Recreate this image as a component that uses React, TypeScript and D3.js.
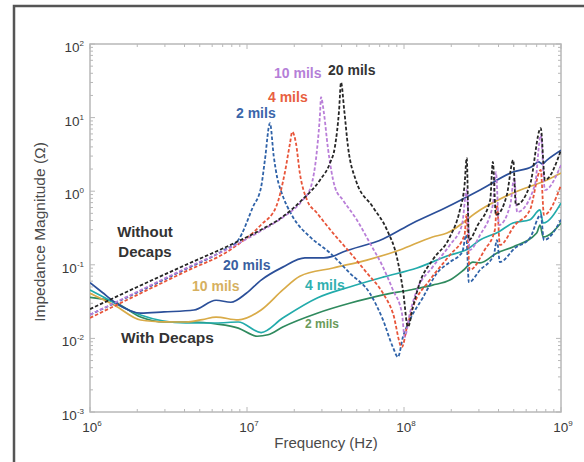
import React from 'react';
import * as d3 from 'd3';

// frequency in MHz, impedance in ohms
const withDecaps20: [number, number][] = [
  [1, 0.057], [1.2, 0.042], [1.44, 0.031], [2.1, 0.022], [2.96, 0.0229], [4.6, 0.0243],
  [6.35, 0.033], [7.9, 0.031], [9.9, 0.041], [12.3, 0.062], [16.9, 0.093], [23.4, 0.124],
  [30.9, 0.124], [35, 0.13], [40.8, 0.149], [73.5, 0.224], [114, 0.37], [188, 0.61],
  [305, 1.04], [494, 1.82], [650, 2.15], [720, 2.5], [760, 2.35], [814, 2.65], [1000, 3.6]
];
const withDecaps10: [number, number][] = [
  [1, 0.041], [1.2, 0.034], [1.44, 0.028], [2.1, 0.0178], [3, 0.0168], [4.08, 0.0167],
  [5.2, 0.018], [6.35, 0.0195], [8.8, 0.0178], [12.3, 0.0243], [16.9, 0.0455], [21.7, 0.07],
  [35.3, 0.0906], [58, 0.116], [94, 0.159], [152, 0.239], [188, 0.27], [305, 0.556],
  [494, 0.946], [814, 1.42], [1000, 1.77]
];
const withDecaps4: [number, number][] = [
  [1, 0.0455], [1.2, 0.037], [1.44, 0.03], [2.1, 0.0208], [4.08, 0.0162], [6.35, 0.0162],
  [8.8, 0.0167], [12.3, 0.012], [16.9, 0.0189], [28, 0.0354], [45, 0.05], [73.5, 0.068],
  [121, 0.0906], [196, 0.136], [250, 0.16], [305, 0.217], [400, 0.28], [494, 0.37],
  [634, 0.41], [735, 0.556], [770, 0.37], [1000, 0.69]
];
const withDecaps2: [number, number][] = [
  [1, 0.036], [1.44, 0.031], [2.1, 0.0195], [2.96, 0.0167], [4.6, 0.0167], [6.35, 0.0157],
  [8.8, 0.0138], [11.6, 0.0107], [13.6, 0.0112], [16.9, 0.0143], [28, 0.022], [45, 0.03],
  [73.5, 0.039], [109, 0.0455], [152, 0.053], [196, 0.062], [240, 0.085], [275, 0.109],
  [305, 0.106], [391, 0.145], [494, 0.175], [700, 0.27], [735, 0.347], [770, 0.239], [1000, 0.37]
];

const noDecaps2: [number, number][] = [
  [1, 0.021], [2, 0.042], [4, 0.086], [7, 0.155], [8.8, 0.217], [10.9, 0.61], [12.3, 1.14],
  [13, 2.65], [14, 8.4], [14.8, 3.0], [15.6, 1.5], [16.5, 1.0], [19.6, 0.447], [25.2, 0.239],
  [33.8, 0.145], [45, 0.0776], [60.6, 0.041], [73.5, 0.0178], [85, 0.0076], [91.5, 0.0056],
  [98.5, 0.0105], [109, 0.0178], [132, 0.036], [163, 0.078], [196, 0.109], [235, 0.149],
  [249, 0.254], [259, 0.058], [305, 0.085], [373, 0.136], [391, 0.217], [408, 0.109],
  [509, 0.169], [634, 0.231], [743, 0.475], [779, 0.217], [1000, 0.41]
];
const noDecaps4: [number, number][] = [
  [1, 0.019], [2, 0.039], [4, 0.08], [8, 0.165], [12.3, 0.35], [15.3, 0.61], [17.4, 1.77],
  [18.8, 4.5], [19.4, 6.4], [20.5, 4.5], [21.7, 1.77], [24.1, 0.76], [27.9, 0.506],
  [35.3, 0.27], [45, 0.149], [58, 0.0776], [73.5, 0.041], [85, 0.022], [97, 0.0076],
  [104.5, 0.0143], [114, 0.0267], [146, 0.062], [196, 0.136], [243, 0.254], [250, 0.475],
  [262, 0.085], [326, 0.159], [379, 0.297], [391, 0.65], [408, 0.186], [509, 0.347],
  [634, 0.556], [743, 1.94], [779, 0.475], [1000, 1.21]
];
const noDecaps10: [number, number][] = [
  [1, 0.021], [2, 0.043], [4, 0.088], [8, 0.175], [12.3, 0.29], [16.9, 0.44], [22.4, 0.74],
  [25.5, 1.14], [27.9, 3.63], [29.2, 11.5], [29.6, 19], [30.9, 11.5], [32.7, 4.0], [36.3, 1.14],
  [40.8, 0.76], [50, 0.41], [60.6, 0.198], [73.5, 0.093], [85, 0.0455], [97, 0.022],
  [101, 0.0105], [109, 0.022], [121, 0.0455], [152, 0.093], [196, 0.186], [234, 0.347],
  [251, 1.04], [262, 0.159], [305, 0.254], [368, 0.65], [385, 1.82], [403, 0.347],
  [475, 0.65], [503, 1.51], [526, 0.52], [682, 1.21], [743, 5.8], [790, 1.04], [1000, 2.27]
];
const noDecaps20: [number, number][] = [
  [1, 0.025], [2, 0.05], [4, 0.098], [8, 0.19], [12.3, 0.3], [16.9, 0.45], [22.4, 0.76],
  [29.2, 1.42], [33.8, 2.42], [36.3, 4.0], [38.6, 12.7], [39.7, 30], [41.6, 12.7], [44, 4.0],
  [49.3, 1.42], [63.4, 0.61], [78, 0.297], [90, 0.128], [98.5, 0.0455], [106, 0.0143],
  [114, 0.0267], [126, 0.057], [152, 0.116], [196, 0.239], [227, 0.556], [243, 1.21],
  [251, 2.83], [259, 0.217], [295, 0.347], [354, 0.76], [368, 2.5], [385, 0.475], [452, 0.89],
  [496, 2.65], [516, 0.65], [634, 1.21], [743, 7.2], [790, 1.42], [1000, 3.63]
];

const xDecades = [6, 7, 8, 9];
const yDecades = [-3, -2, -1, 0, 1, 2];

const series = [
  { data: withDecaps2, color: '#2f8a5e', dashed: false },
  { data: withDecaps4, color: '#22abab', dashed: false },
  { data: withDecaps10, color: '#d9ab48', dashed: false },
  { data: withDecaps20, color: '#2b4f99', dashed: false },
  { data: noDecaps2, color: '#2f62a8', dashed: true },
  { data: noDecaps4, color: '#e8553a', dashed: true },
  { data: noDecaps10, color: '#b97ed8', dashed: true },
  { data: noDecaps20, color: '#262626', dashed: true }
];

const labels = [
  { text: '2 mils', x: 236, y: 118, color: '#3a66aa', size: 14 },
  { text: '4 mils', x: 268, y: 102, color: '#e86040', size: 14 },
  { text: '10 mils', x: 274, y: 78, color: '#b57fd8', size: 14 },
  { text: '20 mils', x: 328, y: 75, color: '#333333', size: 14 },
  { text: '20 mils', x: 223, y: 270, color: '#3a5fa0', size: 14 },
  { text: '10 mils', x: 192, y: 291, color: '#d6b060', size: 14 },
  { text: '4 mils', x: 305, y: 290, color: '#30b0b0', size: 14 },
  { text: '2 mils', x: 305, y: 328, color: '#6a9a5a', size: 12 }
];

const W = 584;
const H = 462;
const font = "'Liberation Sans Narrow', 'Liberation Sans', Arial, sans-serif";

export default function App() {
  const x = d3.scaleLog().domain([1e6, 1e9]).range([90, 561]);
  const y = d3.scaleLog().domain([1e-3, 1e2]).range([412, 44]);
  const line = d3.line<[number, number]>()
    .x(d => x(d[0] * 1e6))
    .y(d => y(d[1]))
    .curve(d3.curveMonotoneX);

  const xt = x.ticks();
  const yt = y.ticks();
  const isMajor = (v: number) => Math.abs(Math.log10(v) - Math.round(Math.log10(v))) < 1e-6;
  const axisColor = '#b8b8b8';

  return (
    <svg width={W} height={H} style={{ position: 'absolute', left: 0, top: 0, background: '#fff' }}>
      <rect x={14} y={6} width={600} height={500} fill="none" stroke="#555" strokeWidth={2.5} />

      <defs>
        <clipPath id="plot">
          <rect x={90} y={44} width={471} height={368} />
        </clipPath>
      </defs>

      {/* plot frame and inward ticks */}
      <rect x={90} y={44} width={471} height={368} fill="none" stroke={axisColor} strokeWidth={1.5} />
      {xt.map((v, i) => {
        const len = isMajor(v) ? 5 : 3;
        return (
          <g key={'xt' + i} stroke={axisColor} strokeWidth={1}>
            <line x1={x(v)} x2={x(v)} y1={412} y2={412 - len} />
            <line x1={x(v)} x2={x(v)} y1={44} y2={44 + len} />
          </g>
        );
      })}
      {yt.map((v, i) => {
        const len = isMajor(v) ? 5 : 3;
        return (
          <g key={'yt' + i} stroke={axisColor} strokeWidth={1}>
            <line x1={90} x2={90 + len} y1={y(v)} y2={y(v)} />
            <line x1={561} x2={561 - len} y1={y(v)} y2={y(v)} />
          </g>
        );
      })}

      <g clipPath="url(#plot)" fill="none">
        {series.map((s, i) => (
          <path
            key={i}
            d={line(s.data) || ''}
            stroke={s.color}
            strokeWidth={s.dashed ? 1.8 : 1.7}
            strokeDasharray={s.dashed ? '3.5 2' : undefined}
            strokeLinejoin="round"
          />
        ))}
      </g>

      {/* tick labels */}
      <g fontFamily={font} fill="#3a3a3a" fontSize={13.5}>
        {yDecades.map(e => (
          <text key={'yl' + e} x={84} y={y(Math.pow(10, e)) + 8} textAnchor="end">
            <tspan>10</tspan>
            <tspan fontSize={8} dy={-6}>{e}</tspan>
          </text>
        ))}
        {xDecades.map(e => (
          <text key={'xl' + e} x={x(Math.pow(10, e)) + 2} y={432} textAnchor="middle">
            <tspan>10</tspan>
            <tspan fontSize={8} dy={-6}>{e}</tspan>
          </text>
        ))}
      </g>

      {/* axis titles */}
      <text x={326} y={448} textAnchor="middle" fontFamily={font} fontSize={15} fill="#4a4a4a">
        Frequency (Hz)
      </text>
      <text
        transform="translate(45,232) rotate(-90)"
        textAnchor="middle"
        fontFamily={font}
        fontSize={15.5}
        fill="#4a4a4a"
      >
        Impedance Magnitude (Ω)
      </text>

      {/* annotations */}
      <g fontFamily={font} fontWeight="bold">
        {labels.map((l, i) => (
          <text key={'lb' + i} x={l.x} y={l.y} fill={l.color} fontSize={l.size}>
            {l.text}
          </text>
        ))}
        <text x={145} y={237} textAnchor="middle" fontSize={15} fill="#333">Without</text>
        <text x={145} y={257} textAnchor="middle" fontSize={15} fill="#333">Decaps</text>
        <text x={121} y={343} fontSize={15.5} fill="#333">With Decaps</text>
      </g>
    </svg>
  );
}
